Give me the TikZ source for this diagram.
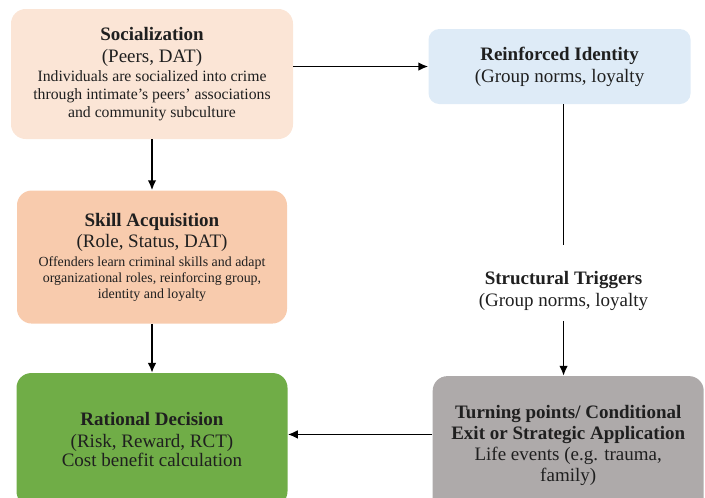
\documentclass[tikz,border=0pt]{standalone}
\usepackage{fontspec}
\setmainfont{Liberation Serif}
\usetikzlibrary{arrows.meta,positioning}
\definecolor{socfill}{HTML}{FBE5D6}
\definecolor{skillfill}{HTML}{F8CBAD}
\definecolor{idfill}{HTML}{DEEBF7}
\definecolor{ratfill}{HTML}{70AD47}
\definecolor{turnfill}{HTML}{AEAAAA}
\newcommand{\btitle}[1]{{\fontsize{14.25}{16.5}\selectfont\bfseries #1}}
\newcommand{\bsub}[1]{{\fontsize{14.25}{16.5}\selectfont #1}}

\begin{document}
\begin{tikzpicture}[x=.75pt,y=-.75pt,>={Latex[length=7.5pt,width=6.5pt]},
  every node/.style={text=black!88},
  box/.style={rounded corners=11pt,align=center,inner sep=0pt},
  big/.style={font=\fontsize{14.25}{16.5}\selectfont},
  small/.style={font=\fontsize{11.8}{13.5}\selectfont},
  link/.style={->,line width=1.3pt}]
 \clip (0,0) rectangle (705,497);
 \node[box,small,fill=socfill,minimum width=211.5pt,minimum height=97.5pt] (soc) at (152,74)
   {\btitle{Socialization}\\[3pt]\bsub{(Peers, DAT)}\\[.75pt]Individuals are socialized into crime\\
    through intimate's peers' associations\\and community subculture};
 \node[box,big,fill=idfill,rounded corners=8pt,minimum width=196.5pt,minimum height=56.25pt,
   right=101.25pt of soc,yshift=5.6pt] (reinf)
   {\textbf{Reinforced Identity}\\(Group norms, loyalty};
 \node[box,font=\fontsize{10.45}{12}\selectfont,fill=skillfill,minimum width=202.5pt,minimum height=99.75pt,
   below=38.25pt of soc] (skill)
   {\btitle{Skill Acquisition}\\[2pt]\bsub{(Role, Status, DAT)}\\[2.25pt]Offenders learn criminal skills and adapt\\
    organizational roles, reinforcing group,\\identity and loyalty};
 \node[box,big,fill=ratfill,minimum width=203.25pt,minimum height=99.75pt,
   below=36.75pt of skill] (rat)
   {\textbf{Rational Decision}\\(Risk, Reward, RCT)\\[-2pt]Cost benefit calculation};
 \node[big,align=center,inner sep=0pt,minimum height=44.25pt,
   below=117.75pt of reinf,xshift=3pt] (trig)
   {\textbf{Structural Triggers}\\(Group norms, loyalty};
 \node[box,font=\fontsize{14.25}{15.75}\selectfont,fill=turnfill,minimum width=203.25pt,minimum height=103.5pt,
   below=41.25pt of trig,xshift=3.5pt] (turn)
   {\textbf{Turning points/ Conditional}\\\textbf{Exit or Strategic Application}\\
    Life events (e.g. trauma,\\family)};
 \draw[link] (soc.east |- reinf.west) -- (reinf.west);
 \draw[link] (skill.north |- soc.south) -- (skill.north);
 \draw[link] (skill.south) -- (skill.south |- rat.north);
 \draw[line width=1.3pt] (trig.north |- reinf.south) -- ([yshift=12pt]trig.north);
 \draw[link] (trig.south) -- (trig.south |- turn.north);
 \draw[link] ([yshift=8pt]turn.west) -- ([yshift=8pt]turn.west -| rat.east);
\end{tikzpicture}
\end{document}
